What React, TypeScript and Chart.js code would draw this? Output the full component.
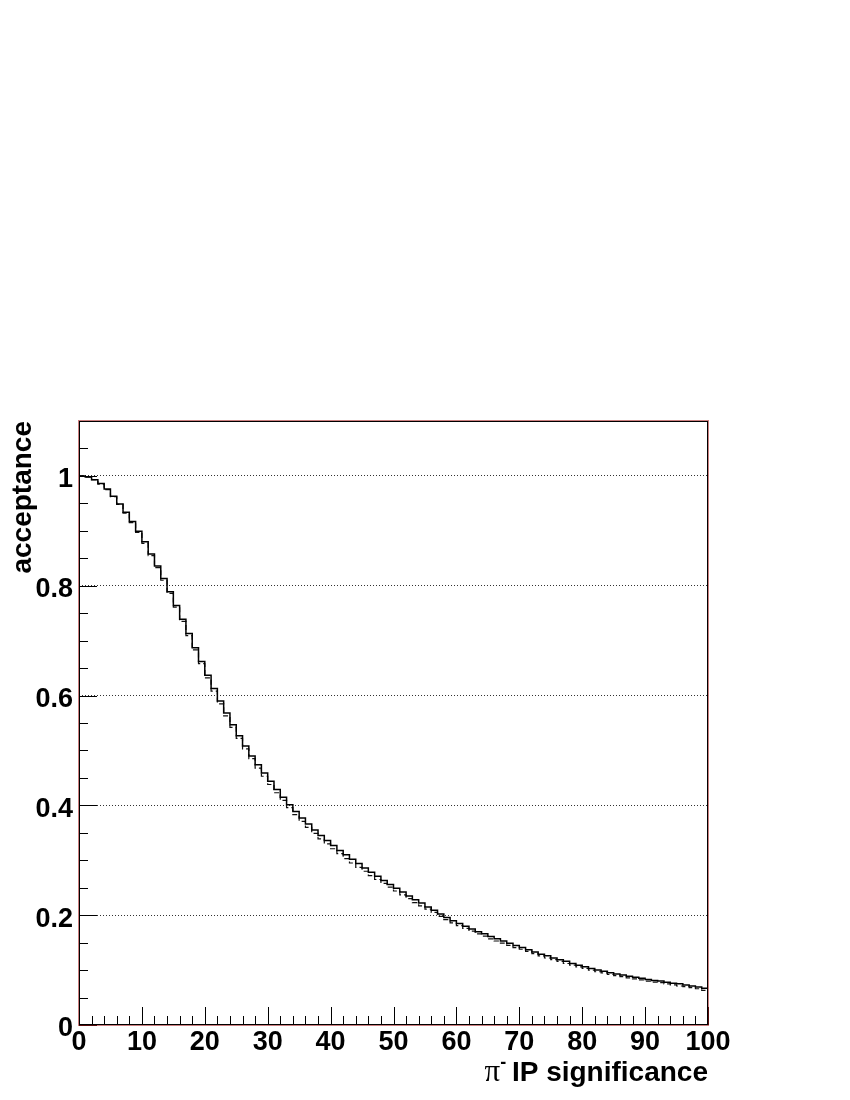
import React, { useEffect, useRef } from "react";
import { Chart, registerables } from "chart.js";

Chart.register(...registerables);

// ---- data ----
const X_MIN = 0;
const X_MAX = 100;
const BIN_WIDTH = 1;
const Y_MIN = 0;
const Y_MAX = 1.1;

// solid histogram: acceptance per bin of pi- IP significance
const accSolid = [
  1.000, 0.998, 0.993, 0.986, 0.976, 0.963, 0.949, 0.934, 0.917, 0.899,
  0.880, 0.858, 0.836, 0.813, 0.789, 0.764, 0.739, 0.713, 0.687, 0.662,
  0.637, 0.613, 0.590, 0.568, 0.547, 0.527, 0.508, 0.490, 0.474, 0.459,
  0.444, 0.429, 0.415, 0.401, 0.389, 0.377, 0.366, 0.355, 0.345, 0.336,
  0.327, 0.318, 0.310, 0.302, 0.294, 0.286, 0.278, 0.271, 0.263, 0.256,
  0.249, 0.242, 0.235, 0.228, 0.222, 0.215, 0.209, 0.202, 0.196, 0.190,
  0.185, 0.180, 0.175, 0.170, 0.166, 0.161, 0.157, 0.153, 0.149, 0.145,
  0.141, 0.137, 0.133, 0.129, 0.126, 0.122, 0.119, 0.116, 0.112, 0.109,
  0.106, 0.103, 0.100, 0.098, 0.095, 0.093, 0.091, 0.089, 0.087, 0.085,
  0.083, 0.081, 0.080, 0.078, 0.076, 0.075, 0.073, 0.071, 0.069, 0.067,
];

// dashed histogram
const accDashed = [
  1.000, 0.998, 0.993, 0.985, 0.975, 0.962, 0.948, 0.932, 0.915, 0.897,
  0.877, 0.855, 0.833, 0.810, 0.786, 0.761, 0.735, 0.709, 0.683, 0.658,
  0.632, 0.608, 0.585, 0.563, 0.542, 0.522, 0.503, 0.485, 0.468, 0.453,
  0.438, 0.423, 0.409, 0.396, 0.383, 0.371, 0.360, 0.349, 0.339, 0.330,
  0.321, 0.312, 0.303, 0.295, 0.287, 0.280, 0.272, 0.265, 0.258, 0.251,
  0.244, 0.237, 0.230, 0.223, 0.217, 0.211, 0.205, 0.198, 0.192, 0.186,
  0.181, 0.176, 0.171, 0.166, 0.162, 0.157, 0.153, 0.149, 0.145, 0.141,
  0.138, 0.134, 0.130, 0.126, 0.122, 0.119, 0.116, 0.112, 0.109, 0.106,
  0.103, 0.100, 0.097, 0.095, 0.092, 0.090, 0.088, 0.086, 0.084, 0.082,
  0.080, 0.078, 0.077, 0.075, 0.073, 0.071, 0.070, 0.068, 0.066, 0.063,
];

const X_TICKS = [0, 10, 20, 30, 40, 50, 60, 70, 80, 90, 100];
const X_TICK_LABELS = ["0", "10", "20", "30", "40", "50", "60", "70", "80", "90", "100"];
const Y_TICKS = [0, 0.2, 0.4, 0.6, 0.8, 1];
const Y_TICK_LABELS = ["0", "0.2", "0.4", "0.6", "0.8", "1"];
const X_MINOR_STEP = 2;
const Y_MINOR_STEP = 0.05;

const X_TITLE_SYMBOL = "π";
const X_TITLE_SUP = "-";
const X_TITLE_TEXT = "IP significance";
const Y_TITLE = "acceptance";

// ---- styles ----
const FONT = "'Liberation Sans', Arial, Helvetica, sans-serif";
const SERIF = "'Liberation Serif', 'Times New Roman', serif";

function histPoints(values: number[]) {
  const pts = values.map((v, i) => ({ x: X_MIN + i * BIN_WIDTH, y: v }));
  pts.push({ x: X_MIN + values.length * BIN_WIDTH, y: values[values.length - 1] });
  return pts;
}

const frameTicksPlugin = {
  id: "frameTicks",
  afterDraw(chart: any) {
    const { ctx, chartArea, scales } = chart;
    const xs = scales.x;
    const ys = scales.y;
    const { left, right, top, bottom } = chartArea;
    ctx.save();
    // inward ticks on bottom axis
    ctx.strokeStyle = "#000";
    ctx.lineWidth = 1;
    ctx.beginPath();
    const nx = Math.round((X_MAX - X_MIN) / X_MINOR_STEP);
    for (let k = 0; k <= nx; k++) {
      const v = X_MIN + k * X_MINOR_STEP;
      const px = Math.round(xs.getPixelForValue(v)) + 0.5;
      const major = X_TICKS.includes(v);
      const len = major ? 18 : 9;
      ctx.moveTo(px, bottom);
      ctx.lineTo(px, bottom - len);
    }
    // inward ticks on left axis
    const ny = Math.round((Y_MAX - Y_MIN) / Y_MINOR_STEP);
    for (let k = 0; k <= ny; k++) {
      const v = +(Y_MIN + k * Y_MINOR_STEP).toFixed(4);
      const py = Math.round(ys.getPixelForValue(v)) + 0.5;
      const major = Y_TICKS.some((t) => Math.abs(t - v) < 1e-6);
      const len = major ? 18 : 9;
      ctx.moveTo(left, py);
      ctx.lineTo(left + len, py);
    }
    ctx.stroke();
    // frame: black inner line, faint red outer line
    ctx.strokeStyle = "rgba(160,20,20,0.55)";
    ctx.lineWidth = 1;
    ctx.strokeRect(left - 0.5, top - 0.5, right - left + 1, bottom - top + 1);
    ctx.strokeStyle = "#000";
    ctx.strokeRect(left + 0.5, top + 0.5, right - left - 1, bottom - top - 1);

    // x-axis title: pi^- IP significance, right aligned to the frame
    ctx.fillStyle = "#000";
    ctx.textBaseline = "alphabetic";
    const baseY = 1081;
    ctx.font = `bold 28px ${FONT}`;
    const mainW = ctx.measureText(X_TITLE_TEXT).width;
    const spaceW = ctx.measureText(" ").width;
    ctx.textAlign = "left";
    const mainX = right - mainW;
    ctx.fillText(X_TITLE_TEXT, mainX, baseY);
    ctx.font = `bold 18px ${FONT}`;
    const supW = ctx.measureText(X_TITLE_SUP).width;
    const supX = mainX - spaceW - supW + 2;
    ctx.fillText(X_TITLE_SUP, supX, baseY - 13);
    ctx.font = `31px ${SERIF}`;
    const piW = ctx.measureText(X_TITLE_SYMBOL).width;
    ctx.fillText(X_TITLE_SYMBOL, supX - piW, baseY);
    ctx.restore();
  },
};

export default function App() {
  const canvasRef = useRef<HTMLCanvasElement | null>(null);

  useEffect(() => {
    const canvas = canvasRef.current;
    if (!canvas) return;
    const chart = new Chart(canvas, {
      type: "line",
      data: {
        datasets: [
          {
            label: "solid",
            data: histPoints(accSolid),
            borderColor: "#000",
            borderWidth: 1.5,
            stepped: true,
            pointRadius: 0,
            fill: false,
          },
          {
            label: "dashed",
            data: histPoints(accDashed),
            borderColor: "#111",
            borderWidth: 1.2,
            borderDash: [5, 3],
            stepped: true,
            pointRadius: 0,
            fill: false,
          },
        ],
      },
      options: {
        responsive: false,
        animation: false,
        events: [],
        layout: { padding: { top: 421, right: 142, left: 0, bottom: 0 } },
        plugins: {
          legend: { display: false },
          tooltip: { enabled: false },
        },
        scales: {
          x: {
            type: "linear",
            min: X_MIN,
            max: X_MAX,
            afterBuildTicks: (s: any) => {
              s.ticks = X_TICKS.map((value) => ({ value }));
            },
            afterFit: (s: any) => {
              s.height = 75;
            },
            ticks: {
              autoSkip: false,
              maxRotation: 0,
              minRotation: 0,
              padding: 1,
              color: "#000",
              font: { family: FONT, size: 27, weight: "bold" },
              callback: (v: any) => {
                const i = X_TICKS.indexOf(Number(v));
                return i >= 0 ? X_TICK_LABELS[i] : "";
              },
            },
            grid: { display: false, drawTicks: false },
            border: { display: false },
          },
          y: {
            type: "linear",
            min: Y_MIN,
            max: Y_MAX,
            afterBuildTicks: (s: any) => {
              s.ticks = Y_TICKS.map((value) => ({ value }));
            },
            afterFit: (s: any) => {
              s.width = 79;
            },
            ticks: {
              padding: 6,
              labelOffset: 4,
              color: "#000",
              font: { family: FONT, size: 27, weight: "bold" },
              callback: (v: any) => {
                const i = Y_TICKS.findIndex((t) => Math.abs(t - Number(v)) < 1e-6);
                return i >= 0 ? Y_TICK_LABELS[i] : "";
              },
            },
            grid: {
              drawTicks: false,
              lineWidth: 1,
              color: (c: any) => (c.tick && c.tick.value === 0 ? "rgba(0,0,0,0)" : "#333"),
            },
            border: { display: false, dash: [1, 2] },
            title: {
              display: true,
              text: Y_TITLE,
              align: "end",
              color: "#000",
              font: { family: FONT, size: 28, weight: "bold" },
              padding: { top: 6, bottom: 0 },
            },
          },
        },
      },
      plugins: [frameTicksPlugin],
    } as any);
    return () => chart.destroy();
  }, []);

  return (
    <div style={{ position: "absolute", left: 0, top: 0, width: 850, height: 1100, background: "#fff" }}>
      <canvas ref={canvasRef} width={850} height={1100} style={{ display: "block" }} />
    </div>
  );
}
